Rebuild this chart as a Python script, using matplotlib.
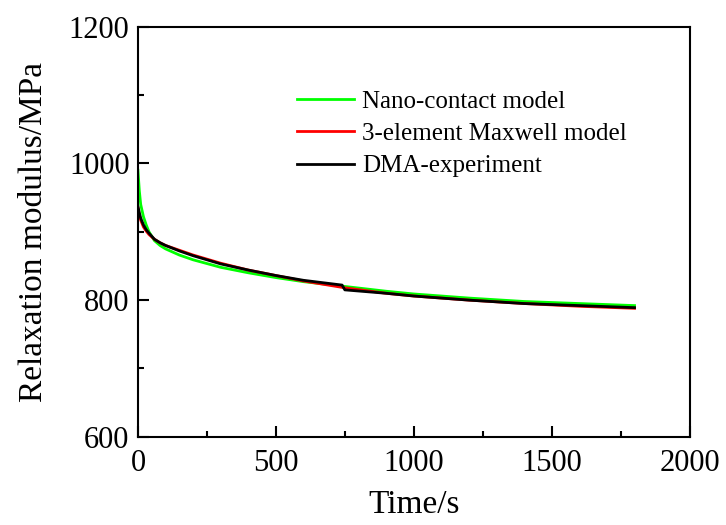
import matplotlib.pyplot as plt
from matplotlib.ticker import MultipleLocator

# values
t_nano = [0, 5, 10, 20, 30, 40, 60, 80, 100, 150, 200, 300, 400, 500, 600,
          750, 900, 1000, 1200, 1400, 1600, 1800]
e_nano = [990, 960, 940, 922, 910, 900, 887, 880, 875, 866, 859, 848, 840, 833,
          827, 820, 813, 809, 803, 798, 795, 792]

t_max = [0, 5, 10, 20, 30, 40, 60, 80, 100, 150, 200, 300, 400, 500, 600,
         750, 900, 1000, 1200, 1400, 1600, 1800]
e_max = [935, 925, 917, 907, 901, 896, 889, 884, 880, 873, 866, 854, 844, 836,
         828, 818, 810, 806, 800, 795, 791, 788]

t_dma = [0, 5, 10, 20, 30, 40, 60, 80, 100, 150, 200, 300, 400, 500, 600,
         740, 750, 900, 1000, 1200, 1400, 1600, 1800]
e_dma = [937, 928, 920, 910, 903, 898, 889, 884, 880, 872, 865, 853, 844, 836,
         829, 822, 815, 810, 806, 800, 795, 792, 789]

plt.rcParams['font.family'] = ['Liberation Serif', 'DejaVu Serif']

fig = plt.figure(figsize=(7.26, 5.25), dpi=100)
ax = fig.add_axes([0.190, 0.168, 0.760, 0.781])

ax.plot(t_nano, e_nano, color='#00ff00', lw=2, label='Nano-contact model')
ax.plot(t_max, e_max, color='#ff0000', lw=2, label='3-element Maxwell model')
ax.plot(t_dma, e_dma, color='black', lw=2, label='DMA-experiment')

ax.set_xlim(0, 2000)
ax.set_ylim(600, 1200)
ax.xaxis.set_major_locator(MultipleLocator(500))
ax.xaxis.set_minor_locator(MultipleLocator(250))
ax.yaxis.set_major_locator(MultipleLocator(200))
ax.yaxis.set_minor_locator(MultipleLocator(100))
ax.tick_params(which='both', direction='in', width=1.5, labelsize=22,
               top=False, right=False, pad=6)
ax.tick_params(axis='x', which='major', pad=9)
ax.tick_params(which='major', length=8)
ax.tick_params(which='minor', length=4)
for s in ax.spines.values():
    s.set_linewidth(1.5)

ax.set_xlabel('Time/s', fontsize=24, labelpad=8)
ax.set_ylabel('Relaxation modulus/MPa', fontsize=24, labelpad=14)

ax.legend(loc='upper left', bbox_to_anchor=(0.288, 0.845), frameon=False,
          fontsize=18, handlelength=2.3, handletextpad=0.3, labelspacing=0.39,
          borderpad=0, borderaxespad=0)

fig.savefig('out.png')
